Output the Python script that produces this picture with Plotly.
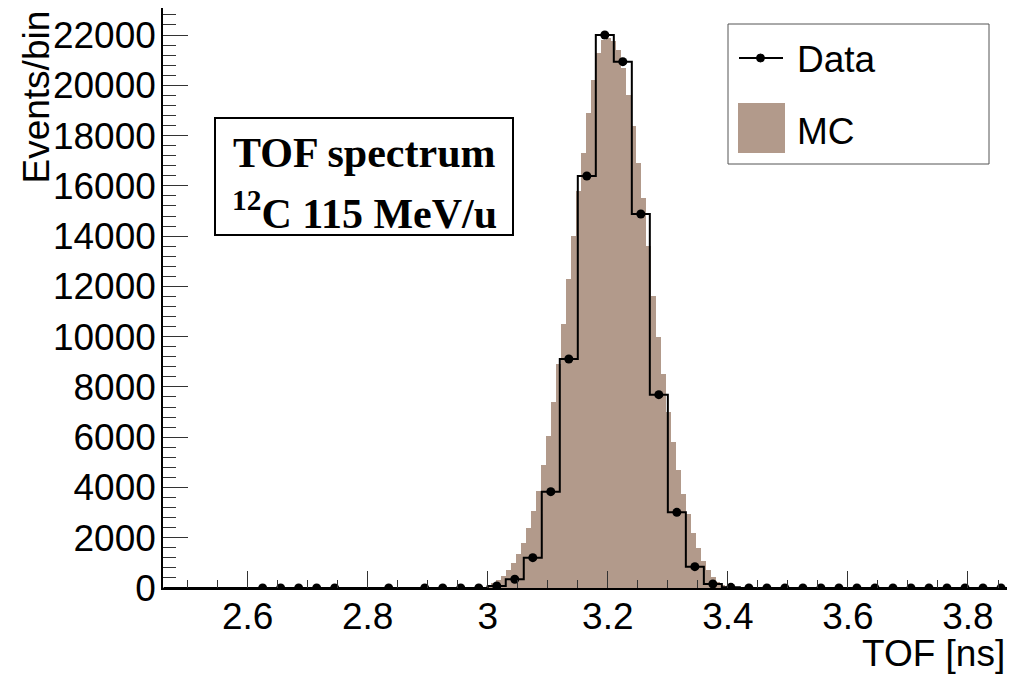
import plotly.graph_objects as go

# Data histogram: 47 bins of 0.03 ns starting at 2.46 ns (0 = empty bin, no marker)
DATA_LO = 2.46
DATA_BIN = 0.03
data_counts = [0, 0, 0, 0, 0, 3, 3, 3, 3, 3, 0, 0, 3, 0, 3, 3, 3, 3,
               80, 346, 1206, 3832, 9110, 16391, 22000, 20940, 14879, 7692,
               3010, 849, 160, 25,
               3, 3, 3, 3, 3, 3, 3, 3, 3, 3, 3, 3, 3, 3, 3]

# MC histogram: finer bins starting at 2.981 ns
MC_LO = 2.981
MC_BIN = 0.0083
mc_counts = [10, 30, 80, 180, 300, 480, 720, 980, 1350, 1780, 2400, 3050, 3850,
             4900, 6050, 7400, 8900, 10500, 12300, 14000, 15800, 17300, 18900,
             20200, 21300, 21800, 21900, 21750, 21400, 20700, 19600, 18400,
             16900, 15500, 13600, 11600, 10000, 8500, 7000, 5800, 4700, 3750,
             2950, 2200, 1600, 1080, 720, 450, 250, 120, 50, 20, 8]

X_RANGE = [2.459, 3.865]
Y_RANGE = [0, 23075]

MC_COLOR = '#b29a8b'
SANS = 'Liberation Sans'
SERIF = 'Liberation Serif'

data_edges = [DATA_LO + i * DATA_BIN for i in range(len(data_counts) + 1)]
data_centers = [DATA_LO + (i + 0.5) * DATA_BIN for i in range(len(data_counts))]
mc_centers = [MC_LO + (i + 0.5) * MC_BIN for i in range(len(mc_counts))]

fig = go.Figure()
fig.add_trace(go.Bar(
    x=mc_centers, y=mc_counts, width=MC_BIN,
    marker=dict(color=MC_COLOR, line=dict(width=0)),
    name='MC', showlegend=False
))
fig.add_trace(go.Scatter(
    x=data_edges, y=data_counts + [data_counts[-1]],
    mode='lines', line=dict(color='black', width=2, shape='hv'),
    name='Data', showlegend=False, hoverinfo='skip'
))
fig.add_trace(go.Scatter(
    x=[c for c, v in zip(data_centers, data_counts) if v > 0],
    y=[v for v in data_counts if v > 0],
    mode='markers', marker=dict(color='black', size=9),
    name='Data', showlegend=False
))

# the page body adds an 8 px offset; plot area on screen: x 163..1007, y 8..588
def px(x):
    return (x - 163) / 844


def py(y):
    return (588 - y) / 580


shapes = [
    # legend box
    dict(type='rect', xref='paper', yref='paper', x0=px(728), x1=px(989),
         y0=py(164), y1=py(24), line=dict(color='#555555', width=1),
         fillcolor='white', layer='above'),
    dict(type='line', xref='paper', yref='paper', x0=px(739), x1=px(783),
         y0=py(58), y1=py(58), line=dict(color='black', width=2)),
    dict(type='circle', xref='paper', yref='paper', x0=px(756.5), x1=px(764.5),
         y0=py(62), y1=py(54), fillcolor='black', line=dict(color='black', width=1)),
    dict(type='rect', xref='paper', yref='paper', x0=px(738), x1=px(785),
         y0=py(153), y1=py(103), fillcolor=MC_COLOR, line=dict(width=0)),
    # label box
    dict(type='rect', xref='paper', yref='paper', x0=px(215), x1=px(513),
         y0=py(235), y1=py(118), line=dict(color='black', width=2),
         fillcolor='white', layer='above'),
]

annotations = [
    dict(text='Data', x=px(795), y=py(60), xanchor='left', yanchor='middle'),
    dict(text='MC', x=px(795), y=py(131), xanchor='left', yanchor='middle'),
    dict(text='<b>TOF spectrum</b>', x=px(364), y=py(153), xanchor='center',
         yanchor='middle', font=dict(family=SERIF, size=42, color='black')),
    dict(text='<b><sup>12</sup>C 115 MeV/u</b>', x=px(364), y=py(210),
         xanchor='center', yanchor='middle',
         font=dict(family=SERIF, size=42, color='black')),
    dict(text='TOF [ns]', x=1.0, y=py(653), xanchor='right', yanchor='middle'),
    dict(text='Events/bin', x=px(36), y=py(9), xanchor='center', yanchor='top',
         textangle=-90),
]
for a in annotations:
    a.setdefault('font', dict(family=SANS, size=37, color='black'))
    a.update(xref='paper', yref='paper', showarrow=False)

fig.update_layout(
    width=1007, height=666,
    margin=dict(l=155, r=8, t=0, b=86, autoexpand=False),
    plot_bgcolor='white', paper_bgcolor='white',
    bargap=0, showlegend=False,
    font=dict(family=SANS, size=37, color='black'),
    shapes=shapes, annotations=annotations,
    xaxis=dict(
        range=X_RANGE, showgrid=False, zeroline=False, automargin=False,
        showline=True, linecolor='black', linewidth=1.5, mirror=True,
        ticks='inside', ticklen=17, tickwidth=1, tickcolor='#333333',
        tick0=2.6, dtick=0.2, ticklabelstandoff=-5,
        minor=dict(ticks='inside', ticklen=8, dtick=0.05, tickcolor='#333333'),
    ),
    yaxis=dict(
        range=Y_RANGE, showgrid=False, zeroline=False, automargin=False,
        showline=True, linecolor='black', linewidth=1.5, mirror=True,
        ticks='inside', ticklen=25, tickwidth=1, tickcolor='#333333',
        dtick=2000, tickformat='d', ticklabelstandoff=-2,
        minor=dict(ticks='inside', ticklen=13, dtick=400, tickcolor='#333333'),
    ),
)

fig.write_html("out.html")
